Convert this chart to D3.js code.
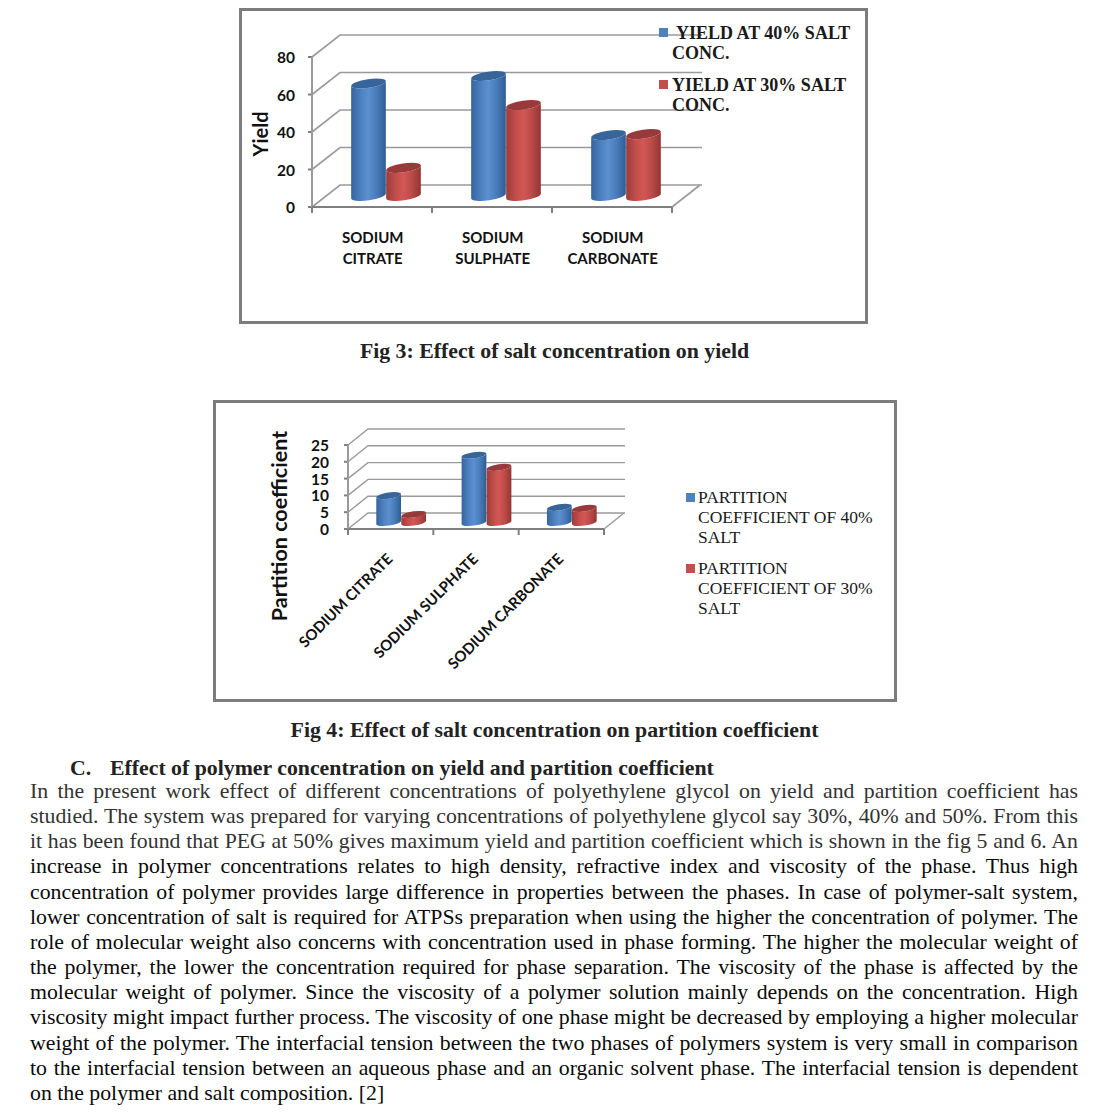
<!DOCTYPE html>
<html><head><meta charset="utf-8">
<script src="https://cdn.jsdelivr.net/npm/d3@7/dist/d3.min.js"></script>
<style>html,body{margin:0;padding:0;background:#fff}svg{display:block}</style>
</head><body><svg id="c" width="1112" height="1113"></svg>
<script>
const yieldCats = [["SODIUM","CITRATE"],["SODIUM","SULPHATE"],["SODIUM","CARBONATE"]];
const yield40 = [60, 64, 32.5];
const yield30 = [15, 48.5, 33];
const yieldTicks = [0,20,40,60,80];
const yieldLegend = [["YIELD AT 40% SALT","CONC."],["YIELD AT 30% SALT","CONC."]];
const partCats = ["SODIUM CITRATE","SODIUM SULPHATE","SODIUM CARBONATE"];
const part40 = [8, 20, 4.5];
const part30 = [2.4, 16.4, 4.2];
const partTicks = [0,5,10,15,20,25];
const partLegend = [["PARTITION","COEFFICIENT OF 40%","SALT"],["PARTITION","COEFFICIENT OF 30%","SALT"]];
const captions = ["Fig 3: Effect of salt concentration on yield","Fig 4: Effect of salt concentration on partition coefficient"];
const heading = ["C.","Effect of polymer concentration on yield and partition coefficient"];
const bodyLines = [
"In the present work effect of different concentrations of polyethylene glycol on yield and partition coefficient has",
"studied. The system was prepared for varying concentrations of polyethylene glycol say 30%, 40% and 50%. From this",
"it has been found that PEG at 50% gives maximum yield and partition coefficient which is shown in the fig 5 and 6. An",
"increase in polymer concentrations relates to high density, refractive index and viscosity of the phase. Thus high",
"concentration of polymer provides large difference in properties between the phases. In case of polymer-salt system,",
"lower concentration of salt is required for ATPSs preparation when using the higher the concentration of polymer. The",
"role of molecular weight also concerns with concentration used in phase forming. The higher the molecular weight of",
"the polymer, the lower the concentration required for phase separation. The viscosity of the phase is affected by the",
"molecular weight of polymer. Since the viscosity of a polymer solution mainly depends on the concentration. High",
"viscosity might impact further process. The viscosity of one phase might be decreased by employing a higher molecular",
"weight of the polymer. The interfacial tension between the two phases of polymers system is very small in comparison",
"to the interfacial tension between an aqueous phase and an organic solvent phase. The interfacial tension is dependent",
"on the polymer and salt composition. [2]"];

const svg = d3.select("#c");
const SANS = "Lato, 'Open Sans', sans-serif", SERIF = "'Liberation Serif', serif";
const defs = svg.append("defs");
function grad(id, stops){
  const g = defs.append("linearGradient").attr("id",id).attr("x1",0).attr("x2",1).attr("y1",0).attr("y2",0);
  stops.forEach(([o,c])=>g.append("stop").attr("offset",o).attr("stop-color",c));
}
grad("gb",[[0,"#34659f"],[.3,"#4f82c0"],[.5,"#5b8fd0"],[.72,"#4a7dba"],[1,"#2f5d93"]]);
grad("gr",[[0,"#9c3c3a"],[.3,"#c54f4c"],[.5,"#d25755"],[.72,"#bd4b48"],[1,"#923634"]]);
const COLORS = {b:{fill:"url(#gb)",top:"#376499",sq:"#4f81bd"}, r:{fill:"url(#gr)",top:"#98393a",sq:"#c0504d"}};
const TICK_GREY="#7f7f7f", GRID="#9a9a9a";

function chart(o){
  const g = svg.append("g");
  g.append("rect").attr("x",o.frame[0]).attr("y",o.frame[1]).attr("width",o.frame[2]).attr("height",o.frame[3])
    .attr("fill","#fff").attr("stroke","#7d7d7d").attr("stroke-width",3);
  const y = d3.scaleLinear().domain([0,o.ticks[o.ticks.length-1]]).range([o.y0,o.y1]);
  const x = d3.scaleBand().domain(o.cats.map((c,i)=>i)).range([o.x0,o.x1]);
  const [dx,dy] = o.depth;
  o.ticks.forEach(t=>{
    g.append("path").attr("fill","none").attr("stroke",GRID).attr("stroke-width",o.gw)
      .attr("d",`M${o.x0},${y(t)}L${o.x0+dx},${y(t)-dy}H${o.gridEnd}`);
    g.append("line").attr("x1",o.x0-4).attr("x2",o.x0).attr("y1",y(t)).attr("y2",y(t)).attr("stroke",TICK_GREY).attr("stroke-width",2);
    g.append("text").attr("x",o.x0-o.labelGap).attr("y",y(t)+6).attr("text-anchor","end")
      .attr("font-family",SANS).attr("font-weight",700).attr("font-size",o.tickFont).attr("fill","#111").text(t);
  });
  g.append("path").attr("fill","none").attr("stroke",GRID).attr("stroke-width",o.gw)
    .attr("d",`M${o.x1},${o.y0}L${o.x1+dx},${o.y0-dy}`);
  g.append("line").attr("x1",o.x0).attr("x2",o.x0).attr("y1",o.y0+4).attr("y2",o.y1).attr("stroke",GRID).attr("stroke-width",2);
  g.append("line").attr("x1",o.x0).attr("x2",o.x1).attr("y1",o.y0).attr("y2",o.y0).attr("stroke",TICK_GREY).attr("stroke-width",2);
  d3.range(o.cats.length+1).forEach(i=>{
    const px=o.x0+i*x.bandwidth();
    g.append("line").attr("x1",px).attr("x2",px).attr("y1",o.y0).attr("y2",o.y0+6).attr("stroke",TICK_GREY).attr("stroke-width",2);
  });
  const base = o.y0-o.baseLift, scaleY = v=>y(v)-o.baseLift;
  const tilt = o.tilt*Math.PI/180;
  function cyl(cx,v,c){
    const t=scaleY(v), rx=o.rx, ry=o.ry, ox=rx*Math.cos(tilt), oy=rx*Math.sin(tilt);
    const arc=(sweep,X,Y)=>`A${rx},${ry} ${-o.tilt} 0 ${sweep} ${X},${Y}`;
    g.append("path").attr("fill",c.fill)
      .attr("d",`M${cx-ox},${t+oy}L${cx-ox},${base+oy}${arc(0,cx+ox,base-oy)}L${cx+ox},${t-oy}${arc(1,cx-ox,t+oy)}Z`);
    g.append("ellipse").attr("cx",0).attr("cy",0).attr("rx",rx).attr("ry",ry).attr("fill",c.top)
      .attr("transform",`translate(${cx},${t}) rotate(${-o.tilt})`);
  }
  o.cats.forEach((c,i)=>{
    const mid = x(i)+x.bandwidth()/2+o.barShift;
    cyl(mid-o.rx,o.a[i],COLORS.b);
    cyl(mid+o.rx,o.b[i],COLORS.r);
  });
  return {g,x,y};
}

function legend(g,items,cols,sqX,textX,firstX,ys,lh,size,weight,sqOff){
  items.forEach((lines,i)=>{
    g.append("rect").attr("x",sqX).attr("y",ys[i]-sqOff).attr("width",9).attr("height",9).attr("fill",cols[i]);
    lines.forEach((l,j)=>g.append("text").attr("x",j==0?firstX[i]:textX).attr("y",ys[i]+lh*j)
      .attr("font-family",SERIF).attr("font-size",size).attr("font-weight",weight).attr("fill","#1a1a1a").text(l));
  });
}

// Figure 3
const c1 = chart({frame:[240.5,9.5,626,313],ticks:yieldTicks,cats:yieldCats,a:yield40,b:yield30,
  x0:312,x1:672,y0:207,y1:57,depth:[28,22],gridEnd:702,gw:1.6,labelGap:17,tickFont:15.5,
  rx:17.5,ry:4.4,tilt:8,baseLift:11,barShift:14});
c1.g.selectAll(null).data(yieldCats).join("text")
  .attr("text-anchor","middle").attr("font-family",SANS).attr("font-weight",700).attr("font-size",15).attr("fill","#111")
  .attr("x",(d,i)=>c1.x(i)+c1.x.bandwidth()/2+0.7).attr("y",243)
  .each(function(d){d3.select(this).selectAll("tspan").data(d).join("tspan")
    .attr("x",d3.select(this).attr("x")).attr("dy",(_,j)=>j?21:0).text(s=>s);});
c1.g.append("text").attr("transform","translate(268,134) rotate(-90)").attr("text-anchor","middle")
  .attr("font-family",SANS).attr("font-weight",700).attr("font-size",20).attr("fill","#111").text("Yield");
legend(c1.g,yieldLegend,[COLORS.b.sq,COLORS.r.sq],659,672,[676,672],[39,91],20,18,700,11);

// Figure 4
const c2 = chart({frame:[214.5,401.5,681,299],ticks:partTicks,cats:partCats,a:part40,b:part30,
  x0:348,x1:604,y0:529,y1:445,depth:[20,16],gridEnd:625,gw:1.4,labelGap:19,tickFont:15.5,
  rx:12.5,ry:3.1,tilt:8,baseLift:6.5,barShift:10.5});
c2.g.selectAll(null).data(partCats).join("text")
  .attr("text-anchor","end").attr("font-family",SANS).attr("font-weight",700).attr("font-size",15).attr("fill","#111")
  .attr("transform",(d,i)=>`translate(${c2.x(i)+c2.x.bandwidth()/2+3},560) rotate(-45)`).text(d=>d);
c2.g.append("text").attr("transform","translate(287,526) rotate(-90)").attr("text-anchor","middle")
  .attr("font-family",SANS).attr("font-weight",700).attr("font-size",21.5).attr("fill","#111").text("Partition coefficient");
legend(c2.g,partLegend,[COLORS.b.sq,COLORS.r.sq],686,698,[698,698],[503,574],20,17.5,400,10);

const capY=[358,737], FS=21.8;
captions.forEach((c,i)=>svg.append("text").attr("x",554.5).attr("y",capY[i]).attr("text-anchor","middle")
  .attr("font-family",SERIF).attr("font-weight",700).attr("font-size",FS).attr("fill","#222").text(c));
svg.append("text").attr("x",70).attr("y",775).attr("font-family",SERIF).attr("font-weight",700).attr("font-size",FS).attr("fill","#222").text(heading[0]);
svg.append("text").attr("x",110).attr("y",775).attr("font-family",SERIF).attr("font-weight",700).attr("font-size",FS).attr("fill","#222").text(heading[1]);
bodyLines.forEach((l,i)=>{
  const t=svg.append("text").attr("x",30).attr("y",798+i*25.15).attr("font-family",SERIF).attr("font-size",FS)
    .attr("fill",i<3?"#333":"#0a0a0a").text(l);
  if(i<bodyLines.length-1){
    const w=t.node().getComputedTextLength(), n=l.split(" ").length-1;
    t.attr("word-spacing",(1048-w)/n);
  }
});
</script></body></html>
